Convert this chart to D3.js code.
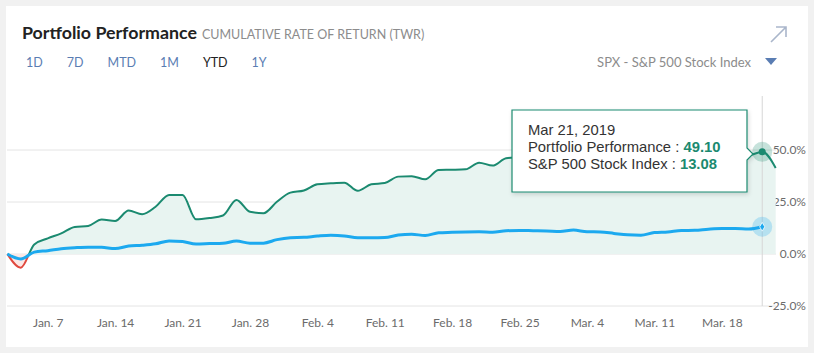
<!DOCTYPE html>
<html>
<head>
<meta charset="utf-8">
<script src="https://cdn.jsdelivr.net/npm/d3@7"></script>
<style>
  body { margin: 0; background: #f1f1f1; font-family: Lato, "Noto Sans", sans-serif; }
  svg { display: block; }
  .axis path { display: none; }
  .axis text { fill: #6b6b6b; font-family: Lato, sans-serif; font-size: 12px; }
</style>
</head>
<body>
<svg id="chart" width="814" height="353"></svg>
<script>
// weekdays from Jan 2 to Mar 22, 2019 (one point per day on the x axis)
const days = d3.timeDay.range(new Date(2019, 0, 2), new Date(2019, 2, 23))
    .filter(d => d.getDay() !== 0 && d.getDay() !== 6);

// cumulative return, percent
const portfolio = [
    0, -6.6, 4.6, 7.5, 9.9, 13.0, 13.5, 16.6, 15.9, 20.9,
    19.1, 22.7, 28.4, 28.4, 16.7, 17.3, 18.5, 26.0, 20.3, 19.6,
    25.1, 29.5, 30.5, 33.5, 34.0, 34.3, 30.4, 33.5, 34.1, 37.2,
    37.4, 35.9, 40.4, 40.5, 40.7, 43.9, 42.5, 46.0, 46.5, 46.0,
    47.0, 46.5, 48.0, 47.0, 46.5, 45.5, 44.5, 44.5, 46.5, 47.0,
    48.0, 48.0, 48.5, 49.0, 48.5, 47.6, 49.10, 41.3
];
const spx = [
    0, -2.4, 0.9, 1.6, 2.5, 3.0, 3.3, 3.2, 2.6, 3.8,
    4.2, 4.9, 6.3, 6.0, 4.8, 5.0, 5.2, 6.2, 5.2, 5.2,
    6.9, 7.8, 8.0, 8.6, 9.0, 8.7, 7.8, 7.8, 7.9, 9.1,
    9.5, 8.9, 10.2, 10.4, 10.6, 10.7, 10.5, 11.2, 11.3, 11.2,
    11.1, 10.8, 11.5, 10.7, 10.6, 9.9, 9.2, 9.0, 10.3, 10.6,
    11.3, 11.4, 11.9, 12.2, 12.2, 12.0, 13.08
];

const tickIdx = [3, 8, 13, 18, 23, 28, 33, 38, 43, 48, 53];
const tickLabels = ["Jan. 7", "Jan. 14", "Jan. 21", "Jan. 28", "Feb. 4", "Feb. 11",
    "Feb. 18", "Feb. 25", "Mar. 4", "Mar. 11", "Mar. 18"];
const yTicks = [-25, 0, 25, 50];
const tabs = ["1D", "7D", "MTD", "1M", "YTD", "1Y"];
const activeTab = "YTD";
const hoverIdx = 56;

const green = "#1b8a70", red = "#e0493e", blue = "#1ca9ef";

const svg = d3.select("#chart");

// card
svg.append("rect").attr("x", 6).attr("y", 6).attr("width", 802).attr("height", 341).attr("fill", "#fff");

// header
const title = svg.append("text").attr("x", 22).attr("y", 39)
    .style("font-size", "17.8px").style("font-weight", 700).attr("fill", "#222")
    .text("Portfolio Performance");
svg.append("text").attr("x", 22 + title.node().getComputedTextLength() + 5).attr("y", 39)
    .style("font-size", "12.5px").attr("fill", "#8c8c8c")
    .text("CUMULATIVE RATE OF RETURN (TWR)");

let tx = 26;
tabs.forEach(t => {
    const el = svg.append("text").attr("x", tx).attr("y", 67)
        .style("font-size", "12.5px").attr("fill", t === activeTab ? "#222" : "#5a7db3").text(t);
    tx += el.node().getComputedTextLength() + 24;
});

svg.append("text").attr("x", 751).attr("y", 67).attr("text-anchor", "end")
    .style("font-size", "13px").attr("fill", "#8c8c8c").text("SPX - S&P 500 Stock Index");
svg.append("path").attr("d", "M765,58 L777,58 L771,65 Z").attr("fill", "#5a7db3");

// expand arrow icon
svg.append("path").attr("d", "M771,42 L786,27 M776,27 L786,27 L786,37")
    .attr("fill", "none").attr("stroke", "#aab6cb").attr("stroke-width", 1.6);

// scales
const x = d3.scalePoint().domain(days).range([7.3, 775.7]);
const y = d3.scaleLinear().domain([-25, 75]).range([306, 98]);
const x0 = 7, x1 = 776;

// gridlines
svg.append("g").selectAll("line").data(yTicks).join("line")
    .attr("x1", x0).attr("x2", x1)
    .attr("y1", d => y(d)).attr("y2", d => y(d))
    .attr("stroke", "#e4e4e4");

// y labels
svg.append("g").attr("class", "axis").attr("transform", "translate(806,0)")
    .call(d3.axisLeft(y).tickValues(yTicks).tickSize(0).tickPadding(0)
        .tickFormat(d => d.toFixed(1) + "%"));

// x labels
svg.append("g").attr("class", "axis").attr("transform", "translate(0,306)")
    .call(d3.axisBottom(x).tickValues(tickIdx.map(i => days[i])).tickSize(0).tickPadding(12)
        .tickFormat((d, i) => tickLabels[i]));

// clip regions above / below zero
const defs = svg.append("defs");
defs.append("clipPath").attr("id", "above").append("rect")
    .attr("x", 0).attr("y", 0).attr("width", 814).attr("height", y(0));
defs.append("clipPath").attr("id", "below").append("rect")
    .attr("x", 0).attr("y", y(0)).attr("width", 814).attr("height", 353 - y(0));
const shadow = defs.append("filter").attr("id", "shadow").attr("x", "-10%").attr("y", "-10%")
    .attr("width", "130%").attr("height", "140%");
shadow.append("feDropShadow").attr("dx", 1).attr("dy", 2).attr("stdDeviation", 2)
    .attr("flood-color", "#000").attr("flood-opacity", 0.15);

const pts = portfolio.map((v, i) => [days[i], v]);
const area = d3.area().x(d => x(d[0])).y0(y(0)).y1(d => y(d[1])).curve(d3.curveMonotoneX);
const line = d3.line().x(d => x(d[0])).y(d => y(d[1])).curve(d3.curveMonotoneX);

svg.append("path").datum(pts).attr("d", area).attr("fill", "#e8f4f1").attr("clip-path", "url(#above)");
svg.append("path").datum(pts).attr("d", area).attr("fill", "#fbe8e6").attr("clip-path", "url(#below)");
svg.append("path").datum(pts).attr("d", line).attr("fill", "none").attr("stroke", green)
    .attr("stroke-width", 2).attr("clip-path", "url(#above)");
svg.append("path").datum(pts).attr("d", line).attr("fill", "none").attr("stroke", red)
    .attr("stroke-width", 2).attr("clip-path", "url(#below)");

// benchmark
svg.append("path").datum(spx.map((v, i) => [days[i], v])).attr("d", line)
    .attr("fill", "none").attr("stroke", blue).attr("stroke-width", 3);

// hover crosshair + markers
const hx = x(days[hoverIdx]);
svg.append("line").attr("x1", hx).attr("x2", hx).attr("y1", y(75) - 2).attr("y2", y(-25))
    .attr("stroke", "#d6d6d6");
svg.append("circle").attr("cx", hx).attr("cy", y(portfolio[hoverIdx])).attr("r", 10)
    .attr("fill", green).attr("fill-opacity", 0.25);
svg.append("circle").attr("cx", hx).attr("cy", y(portfolio[hoverIdx])).attr("r", 3.5).attr("fill", green);
svg.append("circle").attr("cx", hx).attr("cy", y(spx[hoverIdx])).attr("r", 10)
    .attr("fill", blue).attr("fill-opacity", 0.25);
svg.append("path").attr("d", d3.symbol(d3.symbolDiamond, 22)())
    .attr("transform", `translate(${hx},${y(spx[hoverIdx])})`).attr("fill", blue)
    .attr("stroke", "#fff").attr("stroke-width", 0.8);

// tooltip
const tip = svg.append("g");
tip.append("path").attr("d", "M512,110 H747 V148 L753,154 L747,160 V192 H512 Z")
    .attr("fill", "#fff").attr("stroke", green).attr("stroke-width", 1.2).attr("filter", "url(#shadow)");
const tt = tip.append("text").attr("x", 528).style("font-size", "14.8px").attr("fill", "#333")
    .style("font-family", "'Liberation Sans', Arial, sans-serif");
tt.append("tspan").attr("x", 528).attr("y", 135).text(d3.timeFormat("%b %-d, %Y")(days[hoverIdx]));
tt.append("tspan").attr("x", 528).attr("y", 152).text("Portfolio Performance : ");
tt.append("tspan").attr("fill", green).style("font-weight", 700).text(portfolio[hoverIdx].toFixed(2));
tt.append("tspan").attr("x", 528).attr("y", 169).text("S&P 500 Stock Index : ");
tt.append("tspan").attr("fill", green).style("font-weight", 700).text(spx[hoverIdx].toFixed(2));
</script>
</body>
</html>
